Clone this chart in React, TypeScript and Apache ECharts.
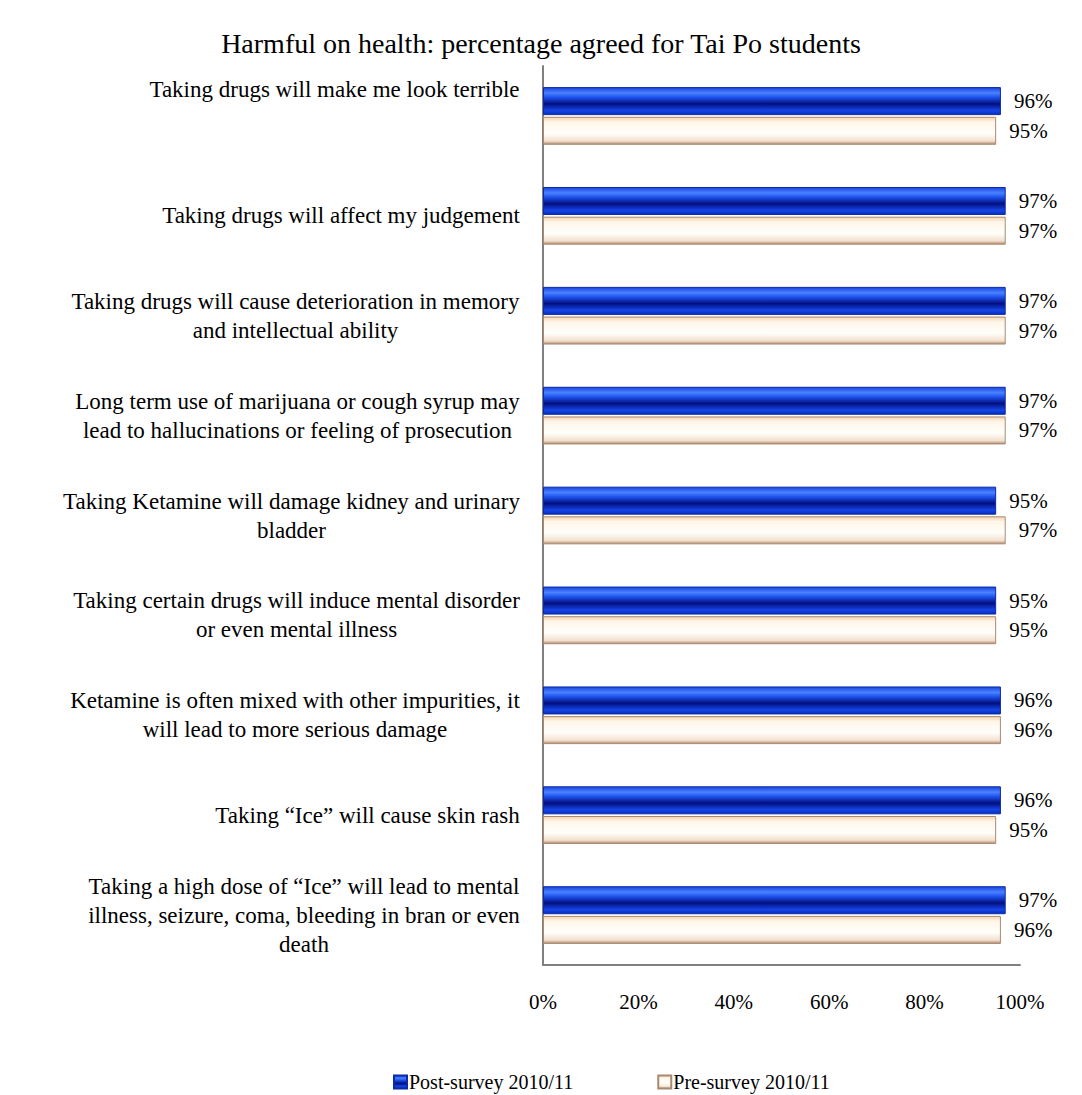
import React, { useEffect, useRef } from "react";
import * as echarts from "echarts";

const titleText = "Harmful on health: percentage agreed for Tai Po students";
const categories = [
  "Taking drugs will make me look terrible",
  "Taking drugs will affect my judgement",
  "Taking drugs will cause deterioration in memory\nand intellectual ability",
  "Long term use of marijuana or cough syrup may\nlead to hallucinations or feeling of prosecution",
  "Taking Ketamine will damage kidney and urinary\nbladder",
  "Taking certain drugs will induce mental disorder\nor even mental illness",
  "Ketamine is often mixed with other impurities, it\nwill lead to more serious damage",
  "Taking \u201cIce\u201d will cause skin rash",
  "Taking a high dose of \u201cIce\u201d will lead to mental\nillness, seizure, coma, bleeding in bran or even\ndeath",
];
const postSurvey = [96, 97, 97, 97, 95, 95, 96, 96, 97];
const preSurvey = [95, 97, 97, 97, 97, 95, 96, 95, 96];
const seriesNames = ["Post-survey 2010/11", "Pre-survey 2010/11"];
const xTicks = [0, 20, 40, 60, 80, 100];

const FONT = '"Liberation Serif", "Times New Roman", serif';
const CAT_SIZE = 23;
const LABEL_SIZE = 20;

function measure(text: string): number {
  const c = document.createElement("canvas");
  const ctx = c.getContext("2d");
  if (!ctx) return text.length * 10;
  ctx.font = `${CAT_SIZE}px ${FONT}`;
  return ctx.measureText(text).width;
}

export default function App() {
  const ref = useRef<HTMLDivElement>(null);
  useEffect(() => {
    if (!ref.current) return;
    const chart = echarts.init(ref.current, null, { renderer: "svg" });
    const rich: Record<string, any> = {};
    categories.forEach((c, i) => {
      const w = Math.max(...c.split("\n").map(measure));
      rich["c" + i] = {
        width: Math.ceil(w) + 2,
        align: "center",
        fontSize: CAT_SIZE,
        fontFamily: FONT,
        color: "#000",
        lineHeight: 29,
        padding: i === 0 ? [0, 0, 52, 0] : 0,
      };
    });
    const blue = new echarts.graphic.LinearGradient(0, 0, 0, 1, [
      { offset: 0, color: "#1a44e0" },
      { offset: 0.2, color: "#4a82ff" },
      { offset: 0.35, color: "#1f55f0" },
      { offset: 0.6, color: "#030f80" },
      { offset: 0.85, color: "#1545e6" },
      { offset: 1, color: "#0a2cbc" },
    ]);
    const cream = new echarts.graphic.LinearGradient(0, 0, 0, 1, [
      { offset: 0, color: "#f6d3ae" },
      { offset: 0.18, color: "#fff6ea" },
      { offset: 0.6, color: "#fffefa" },
      { offset: 0.88, color: "#f3e0ce" },
      { offset: 1, color: "#b08c70" },
    ]);
    const valueLabel = {
      show: true,
      position: "right",
      distance: 13,
      formatter: "{c}%",
      fontFamily: FONT,
      fontSize: 21,
      color: "#000",
    };
    chart.setOption({
      animation: false,
      title: {
        text: titleText,
        left: "center",
        top: 24,
        textStyle: { fontFamily: FONT, fontSize: 28, fontWeight: "normal", color: "#000" },
      },
      legend: {
        data: seriesNames,
        left: 393,
        top: 1072,
        padding: 0,
        itemWidth: 13,
        itemHeight: 13,
        itemGap: 84,
        icon: "rect",
        textStyle: { fontFamily: FONT, fontSize: LABEL_SIZE, color: "#000", padding: [0, 0, 0, -3] },
      },
      grid: { left: 543, right: 62, top: 66, bottom: 130, containLabel: false },
      xAxis: {
        type: "value",
        min: 0,
        max: 100,
        interval: 20,
        axisLine: { show: true, lineStyle: { color: "#808080", width: 2 } },
        axisTick: { show: false },
        splitLine: { show: false },
        axisLabel: {
          margin: 26,
          fontFamily: FONT,
          fontSize: 21,
          color: "#000",
          formatter: (v: number) => (xTicks.includes(v) ? v + "%" : ""),
        },
      },
      yAxis: {
        type: "category",
        inverse: true,
        data: categories,
        axisLine: { show: true, lineStyle: { color: "#808080", width: 2 } },
        axisTick: { show: false },
        axisLabel: {
          margin: 22,
          align: "right",
          formatter: (v: string, i: number) =>
            v.split("\n").map((l) => `{c${i}|${l}}`).join("\n"),
          rich,
        },
      },
      series: [
        {
          name: seriesNames[0],
          type: "bar",
          data: postSurvey,
          barWidth: 28,
          barGap: "6%",
          itemStyle: { color: blue, borderColor: "#0a2aa8", borderWidth: 1 },
          label: valueLabel,
        },
        {
          name: seriesNames[1],
          type: "bar",
          data: preSurvey,
          barWidth: 28,
          itemStyle: { color: cream, borderColor: "#a88a70", borderWidth: 1 },
          label: valueLabel,
        },
      ],
    });
    return () => chart.dispose();
  }, []);
  return (
    <div
      ref={ref}
      style={{ position: "absolute", left: 0, top: 0, width: 1082, height: 1095, background: "#fff" }}
    />
  );
}
